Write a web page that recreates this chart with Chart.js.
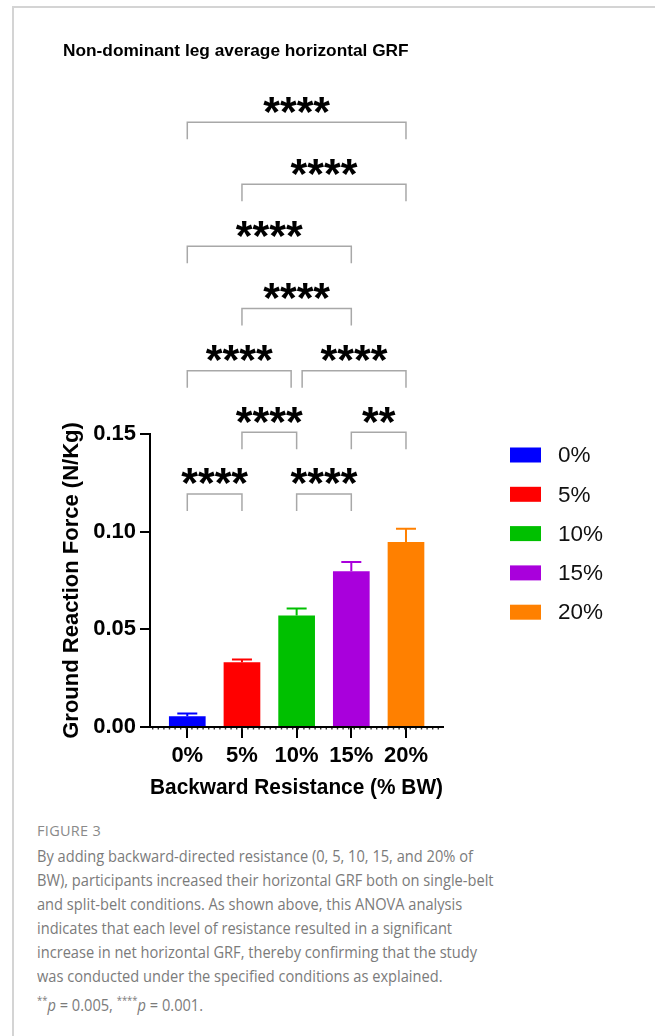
<!DOCTYPE html>
<html>
<head>
<meta charset="utf-8">
<script src="https://cdn.jsdelivr.net/npm/chart.js@4.4.0/dist/chart.umd.min.js"></script>
<style>
  html, body { margin: 0; padding: 0; background: #fff; }
  body { width: 655px; height: 1036px; position: relative; overflow: hidden; }
  #frame { position: absolute; left: 12px; top: 6px; right: -4px; bottom: -4px;
           border-top: 2px solid #d4d4d4; border-left: 2px solid #d4d4d4; }
  #wrap { position: absolute; left: 0; top: 0; width: 655px; height: 810px; }
  #caption { position: absolute; left: 37px; top: 821px; font-family: "Open Sans", sans-serif; color: #7b7b7b; }
  #caption .fig { font-size: 14.5px; line-height: 20px; letter-spacing: 0.3px; color: #8a8a8a; }
  #caption .txt { margin-top: 3px; font-size: 17px; line-height: 24px; white-space: nowrap;
                  transform: scaleX(0.86); transform-origin: 0 0; }
  #caption i { font-style: italic; }
  #caption sup { font-size: 11px; }
</style>
</head>
<body>
<div id="frame"></div>
<div id="wrap"><canvas id="grf" width="655" height="810"></canvas></div>
<div id="caption">
  <div class="fig">FIGURE 3</div>
  <div class="txt">By adding backward-directed resistance (0, 5, 10, 15, and 20% of<br>BW), participants increased their horizontal GRF both on single-belt<br>and split-belt conditions. As shown above, this ANOVA analysis<br>indicates that each level of resistance resulted in a significant<br>increase in net horizontal GRF, thereby confirming that the study<br>was conducted under the specified conditions as explained.<br><sup>**</sup><i>p</i> = 0.005, <sup>****</sup><i>p</i> = 0.001.</div>
</div>
<script>
// Backward resistance levels and mean horizontal GRF of the non-dominant leg
const categories = ['0%', '5%', '10%', '15%', '20%'];
const meanGRF = [0.0055, 0.0332, 0.0571, 0.0797, 0.0947];
const errGRF = [0.0014, 0.0014, 0.0036, 0.0048, 0.0068];
const barColors = ['#0000ff', '#ff0000', '#00c000', '#a900dc', '#ff8000'];
const yTicks = [0, 0.05, 0.10, 0.15];

// Pairwise comparisons: category index pairs, bracket height (N/Kg) and significance
const compPairs = [[0, 4], [1, 4], [0, 3], [1, 3], [0, 2], [2, 4], [1, 2], [3, 4], [0, 1], [2, 3]];
const compLevels = [0.3096, 0.2778, 0.2461, 0.2142, 0.1824, 0.1824, 0.1509, 0.1509, 0.1193, 0.1193];
const compStars = ['****', '****', '****', '****', '****', '****', '****', '**', '****', '****'];

const FONT = '"Liberation Sans", Arial, Helvetica, sans-serif';

// Upward error bars in the colour of each bar
const errorBars = {
  id: 'errorBars',
  afterDatasetsDraw(chart) {
    const { ctx, scales: { x, y } } = chart;
    ctx.save();
    ctx.lineWidth = 2;
    meanGRF.forEach((v, i) => {
      const px = x.getPixelForValue(i);
      const y0 = y.getPixelForValue(v);
      const y1 = y.getPixelForValue(v + errGRF[i]);
      ctx.strokeStyle = barColors[i];
      ctx.beginPath();
      ctx.moveTo(px, y0);
      ctx.lineTo(px, y1);
      ctx.moveTo(px - 10, y1);
      ctx.lineTo(px + 10, y1);
      ctx.stroke();
    });
    ctx.restore();
  }
};

// Significance brackets above the bars
const brackets = {
  id: 'brackets',
  afterDraw(chart) {
    const { ctx, scales: { x, y } } = chart;
    ctx.save();
    compPairs.forEach(([a, b], k) => {
      let xa = x.getPixelForValue(a);
      let xb = x.getPixelForValue(b);
      // brackets meeting at a shared bar on the same row are pulled apart slightly
      compPairs.forEach(([c, d], m) => {
        if (m === k || compLevels[m] !== compLevels[k]) return;
        if (c === b || d === b) xb -= 5.5;
        if (c === a || d === a) xa += 5.5;
      });
      const yl = y.getPixelForValue(compLevels[k]);
      ctx.strokeStyle = '#a8a8a8';
      ctx.lineWidth = 1.5;
      ctx.beginPath();
      ctx.moveTo(xa, yl + 17);
      ctx.lineTo(xa, yl);
      ctx.lineTo(xb, yl);
      ctx.lineTo(xb, yl + 17);
      ctx.stroke();
      ctx.fillStyle = '#000';
      ctx.font = 'bold 43px ' + FONT;
      ctx.textAlign = 'center';
      ctx.textBaseline = 'alphabetic';
      ctx.fillText(compStars[k], (xa + xb) / 2, yl + 3.5);
    });
    ctx.restore();
  }
};

// Colour key on the right
const keyBoxes = {
  id: 'keyBoxes',
  afterDraw(chart) {
    const { ctx } = chart;
    ctx.save();
    categories.forEach((c, i) => {
      const cy = 455 + 39.3 * i;
      ctx.fillStyle = barColors[i];
      ctx.fillRect(510, cy - 7.5, 31, 15);
      ctx.fillStyle = '#111';
      ctx.font = '22.5px ' + FONT;
      ctx.textAlign = 'left';
      ctx.textBaseline = 'middle';
      ctx.fillText(c, 558, cy + 1);
    });
    ctx.restore();
  }
};

// Fine dotted rule along the underside of the x axis
const axisDots = {
  id: 'axisDots',
  afterDraw(chart) {
    const { ctx, chartArea } = chart;
    ctx.save();
    ctx.strokeStyle = '#333';
    ctx.lineWidth = 1.4;
    ctx.setLineDash([1.4, 4.2]);
    ctx.beginPath();
    ctx.moveTo(chartArea.left + 2, chartArea.bottom + 1.8);
    ctx.lineTo(chartArea.right, chartArea.bottom + 1.8);
    ctx.stroke();
    ctx.restore();
  }
};

const boldFont = { family: FONT, size: 22, weight: 'bold', lineHeight: 1.2 };

new Chart(document.getElementById('grf'), {
  type: 'bar',
  data: {
    datasets: [{
      data: categories.map((c, i) => ({ x: i, y: meanGRF[i] })),
      backgroundColor: barColors,
      borderWidth: 0,
      barPercentage: 0.671,
      categoryPercentage: 1
    }]
  },
  options: {
    responsive: false,
    animation: false,
    layout: { padding: { left: 63, right: 212, top: 0, bottom: 0 } },
    plugins: {
      legend: { display: false },
      tooltip: { enabled: false },
      title: {
        display: true,
        text: 'Non-dominant leg average horizontal GRF',
        align: 'start',
        color: '#000',
        font: { family: FONT, size: 17.3, weight: 'bold', lineHeight: 1.2 },
        padding: { top: 40.6, bottom: 372.6 }
      }
    },
    scales: {
      x: {
        type: 'linear',
        offset: false,
        min: -0.682,
        max: 4.677,
        afterBuildTicks: s => { s.ticks = categories.map((c, i) => ({ value: i })); },
        afterFit: s => { s.height = 83; },
        ticks: { callback: v => categories[v], color: '#000', font: boldFont, padding: 5, maxRotation: 0, autoSkip: false },
        grid: { offset: false, drawOnChartArea: false, drawTicks: true, tickLength: 11, color: '#000', lineWidth: 2 },
        border: { display: true, color: '#000', width: 2 },
        title: { display: true, text: 'Backward Resistance (% BW)', color: '#000', font: boldFont, padding: { top: 0, bottom: 8.8 } }
      },
      y: {
        min: 0,
        max: 0.15,
        afterBuildTicks: s => { s.ticks = yTicks.map(v => ({ value: v })); },
        afterFit: s => { s.width = 87; },
        ticks: { callback: v => v.toFixed(2), color: '#000', font: boldFont, padding: 4 },
        grid: { drawOnChartArea: false, drawTicks: true, tickLength: 10, color: '#000', lineWidth: 2 },
        border: { display: true, color: '#000', width: 2 },
        title: { display: true, text: 'Ground Reaction Force (N/Kg)', color: '#000',
                 font: { family: FONT, size: 22, weight: 'bold', lineHeight: 0.8 }, padding: 0 }
      }
    }
  },
  plugins: [errorBars, brackets, keyBoxes, axisDots]
});
</script>
</body>
</html>
